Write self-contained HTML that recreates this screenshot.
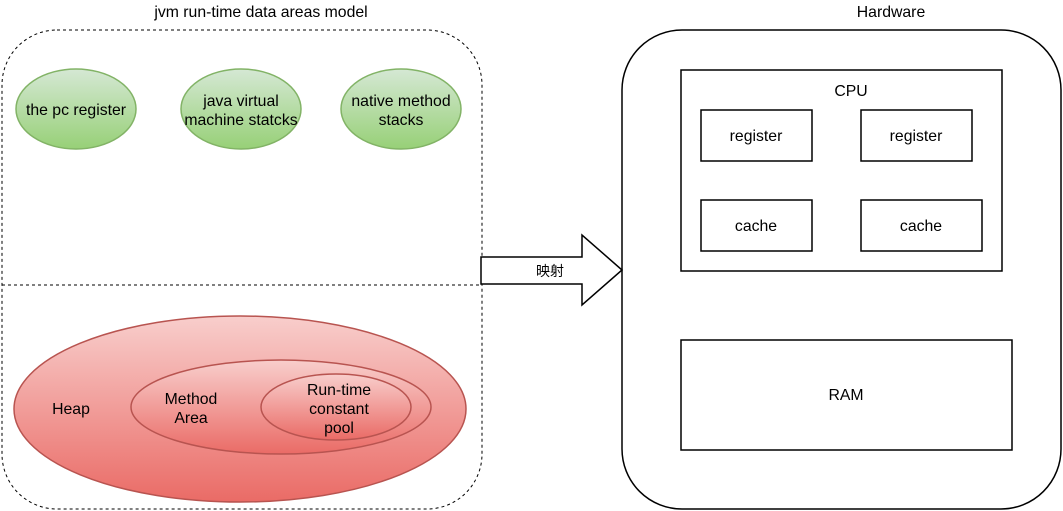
<!DOCTYPE html>
<html><head><meta charset="utf-8"><style>
html,body{margin:0;padding:0;background:#fff;}
svg{display:block;}
text{font-family:"Liberation Sans","Noto Sans CJK SC",sans-serif;font-size:15.8px;fill:#000;}
</style></head><body>
<svg width="1063" height="511" viewBox="0 0 1063 511" xmlns="http://www.w3.org/2000/svg">
<defs>
<linearGradient id="g" x1="0" y1="0" x2="0" y2="1"><stop offset="0" stop-color="#d5e8d4"/><stop offset="1" stop-color="#97d077"/></linearGradient>
<linearGradient id="r" x1="0" y1="0" x2="0" y2="1"><stop offset="0" stop-color="#f8cecc"/><stop offset="1" stop-color="#ea6b66"/></linearGradient>
</defs>
<text x="261" y="17" text-anchor="middle">jvm run-time data areas model</text>
<rect x="2" y="30" width="480" height="479" rx="55" fill="none" stroke="#000" stroke-dasharray="3,3"/>
<line x1="2" y1="285" x2="482" y2="285" stroke="#000" stroke-dasharray="3,3"/>
<ellipse cx="76" cy="109" rx="60" ry="40" fill="url(#g)" stroke="#82b366" stroke-width="1.5"/>
<ellipse cx="241" cy="109" rx="60" ry="40" fill="url(#g)" stroke="#82b366" stroke-width="1.5"/>
<ellipse cx="401" cy="109" rx="60" ry="40" fill="url(#g)" stroke="#82b366" stroke-width="1.5"/>
<text x="76" y="115" text-anchor="middle">the pc register</text>
<text x="241" y="106" text-anchor="middle">java virtual</text>
<text x="241" y="125" text-anchor="middle">machine statcks</text>
<text x="401" y="106" text-anchor="middle">native method</text>
<text x="401" y="125" text-anchor="middle">stacks</text>
<ellipse cx="240" cy="409" rx="226" ry="93" fill="url(#r)" stroke="#b85450" stroke-width="1.5"/>
<ellipse cx="281" cy="407" rx="150" ry="47" fill="url(#r)" stroke="#b85450" stroke-width="1.5"/>
<ellipse cx="336" cy="407" rx="75" ry="33" fill="url(#r)" stroke="#b85450" stroke-width="1.5"/>
<text x="71" y="414" text-anchor="middle">Heap</text>
<text x="191" y="404" text-anchor="middle">Method</text>
<text x="191" y="423" text-anchor="middle">Area</text>
<text x="339" y="395" text-anchor="middle">Run-time</text>
<text x="339" y="414" text-anchor="middle">constant</text>
<text x="339" y="433" text-anchor="middle">pool</text>
<path d="M481,257 L582,257 L582,235 L622,270 L582,305 L582,284 L481,284 Z" fill="#fff" stroke="#000" stroke-width="1.5"/>
<text x="550" y="276" text-anchor="middle" style="font-size:14px">映射</text>
<text x="891" y="17" text-anchor="middle">Hardware</text>
<rect x="622" y="30" width="439" height="479" rx="60" fill="none" stroke="#000" stroke-width="1.5"/>
<rect x="681" y="70" width="321" height="201" fill="none" stroke="#000" stroke-width="1.5"/>
<text x="851" y="96" text-anchor="middle">CPU</text>
<rect x="701" y="110" width="111" height="51" fill="none" stroke="#000" stroke-width="1.5"/>
<rect x="861" y="110" width="111" height="51" fill="none" stroke="#000" stroke-width="1.5"/>
<rect x="701" y="200" width="111" height="51" fill="none" stroke="#000" stroke-width="1.5"/>
<rect x="861" y="200" width="121" height="51" fill="none" stroke="#000" stroke-width="1.5"/>
<text x="756" y="141" text-anchor="middle">register</text>
<text x="916" y="141" text-anchor="middle">register</text>
<text x="756" y="231" text-anchor="middle">cache</text>
<text x="921" y="231" text-anchor="middle">cache</text>
<rect x="681" y="340" width="331" height="110" fill="none" stroke="#000" stroke-width="1.5"/>
<text x="846" y="400" text-anchor="middle">RAM</text>
</svg>
</body></html>
